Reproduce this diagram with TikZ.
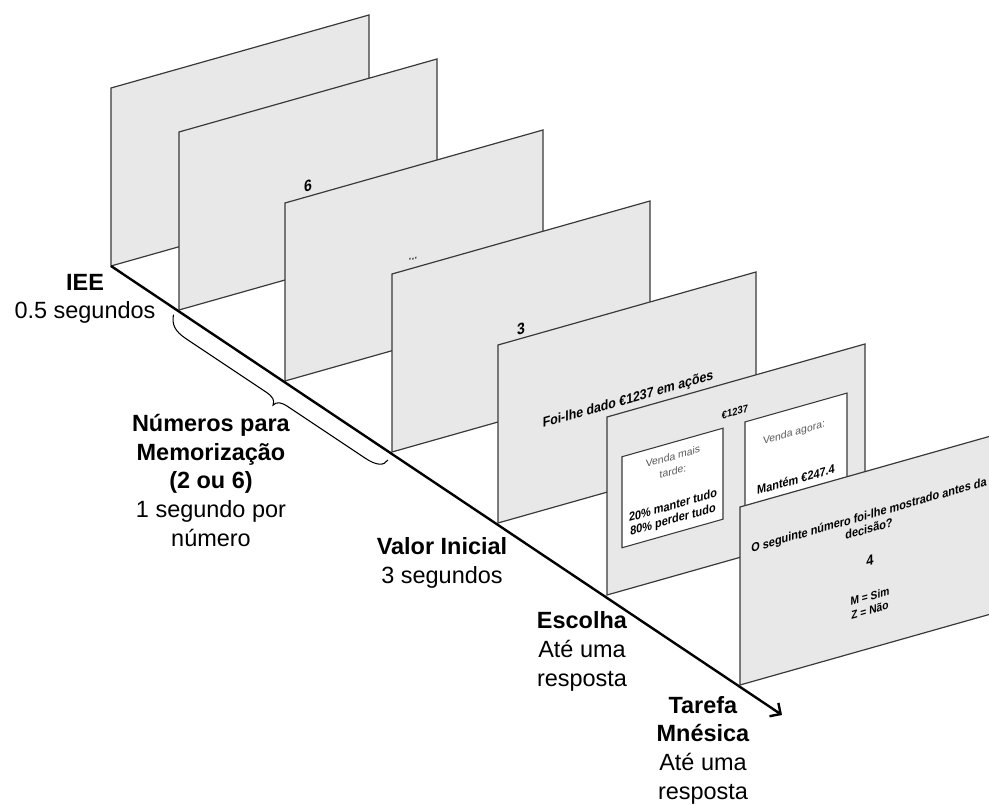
\documentclass[tikz,border=0pt]{standalone}
\usepackage{fontspec}
\setmainfont{Liberation Sans}
\usetikzlibrary{arrows.meta}
\definecolor{panelgray}{HTML}{E8E8E8}
\definecolor{edgegray}{HTML}{3A3A3A}
\definecolor{softgray}{HTML}{5A5A5A}
\begin{document}
\begin{tikzpicture}[x=0.75pt,y=-0.75pt,
  panel/.style={fill=panelgray,draw=edgegray,line width=0.9pt},
  choicebox/.style={fill=white,draw=edgegray,line width=0.8pt},
  ptext/.style={transform shape,inner sep=0pt,align=center,xscale=0.88},
  gtext/.style={transform shape,inner sep=0pt,align=center,text=softgray,font=\fontsize{7.8}{11.25}\selectfont},
  phase/.style={inner sep=0pt,align=center,anchor=base,font=\fontsize{17.6}{21.5}\selectfont},
  timeline/.style={line width=1.8pt,-{Straight Barb[length=6pt,width=12pt]}},
  bracepath/.style={line width=0.8pt}
]
\useasboundingbox (0,0) rectangle (989,805);
\clip (0,0) rectangle (989,805);

\coordinate (p1) at (111,266);
\coordinate (p2) at (179,310);
\coordinate (p3) at (285,381);
\coordinate (p4) at (392,452);
\coordinate (p5) at (498,523);
\coordinate (p6) at (607,595);
\coordinate (p7) at (740,685);
\coordinate (tend) at (782,715);

% panel 1: IEE
\begin{scope}[shift={(p1)},yslant=0.283]
  \draw[panel] (0,0) rectangle (258,-178);
\end{scope}
% panel 2
\begin{scope}[shift={(p2)},yslant=0.283]
  \draw[panel] (0,0) rectangle (258,-178);
  \node[ptext,font=\bfseries\fontsize{12}{14}\selectfont] (s6) at (129,-88) {6};
\end{scope}
% panel 3
\begin{scope}[shift={(p3)},yslant=0.283]
  \draw[panel] (0,0) rectangle (258,-178);
  \node[ptext,text=black!70,font=\bfseries\fontsize{9}{10}\selectfont] (sdots) at (128,-86) {...};
\end{scope}
% panel 4
\begin{scope}[shift={(p4)},yslant=0.283]
  \draw[panel] (0,0) rectangle (258,-178);
  \node[ptext,font=\bfseries\fontsize{12}{14}\selectfont] (s3) at (129,-87) {3};
\end{scope}
% panel 5
\begin{scope}[shift={(p5)},yslant=0.283]
  \draw[panel] (0,0) rectangle (258,-178);
  \node[ptext,font=\bfseries\fontsize{10.5}{12}\selectfont] (sval) at (130,-86) {Foi-lhe dado €1237 em ações};
\end{scope}
% panel 6
\begin{scope}[shift={(p6)},yslant=0.283]
  \draw[panel] (0,0) rectangle (258,-178);
  \node[ptext,font=\bfseries\fontsize{8}{9}\selectfont] (samt) at (128,-147) {€1237};
  \draw[choicebox] (15,-43) rectangle (116,-134);
  \draw[choicebox] (138,-43) rectangle (240,-134);
  \node[gtext] (later) at (66,-112.5) {Venda mais\\tarde:};
  \node[ptext,font=\bfseries\fontsize{9.3}{10.5}\selectfont] (laterp) at (66,-63) {20\% manter tudo\\80\% perder tudo};
  \node[gtext] (now) at (187,-109) {Venda agora:};
  \node[ptext,font=\bfseries\fontsize{9.3}{10.5}\selectfont] (nowv) at (189,-62) {Mantém €247.4};
\end{scope}
% panel 7
\begin{scope}[shift={(p7)},yslant=0.283]
  \draw[panel] (0,0) rectangle (258,-178);
  \node[ptext,font=\bfseries\fontsize{9.3}{10.5}\selectfont] (q) at (129,-127) {O seguinte número foi-lhe mostrado antes da\\decisão?};
  \node[ptext,font=\bfseries\fontsize{11}{12}\selectfont] (s4) at (130,-88) {4};
  \node[ptext,font=\bfseries\fontsize{8.7}{10.5}\selectfont] (keys) at (130,-45) {M = Sim\\Z = Não};
\end{scope}

% brace
\begin{scope}[shift={(p2)},rotate=-33.69]
  \draw[bracepath] (-2,7) .. controls (2,16) and (8,20) .. (22,20) -- (118,20)
    .. controls (126,20) and (130,22) .. (131,27)
    .. controls (132,22) and (136,20) .. (144,20) -- (237,20)
    .. controls (251,20) and (257,16) .. (257,9);
\end{scope}

% labels (anchor base = baseline of last line)
\node[phase] (iee) at (85,319) {\textbf{IEE}\\0.5 segundos};
\node[phase] (mem) at (211,546) {\textbf{Números para}\\\textbf{Memorização}\\\textbf{(2 ou 6)}\\1 segundo por\\número};
\node[phase] (valor) at (442,583) {\textbf{Valor Inicial}\\3 segundos};
\node[phase] (escolha) at (582,686) {\textbf{Escolha}\\Até uma\\resposta};
\node[phase] (tarefa) at (703,799) {\textbf{Tarefa}\\\textbf{Mnésica}\\Até uma\\resposta};

% timeline
\draw[timeline] (p1) -- (tend);
\end{tikzpicture}
\end{document}
